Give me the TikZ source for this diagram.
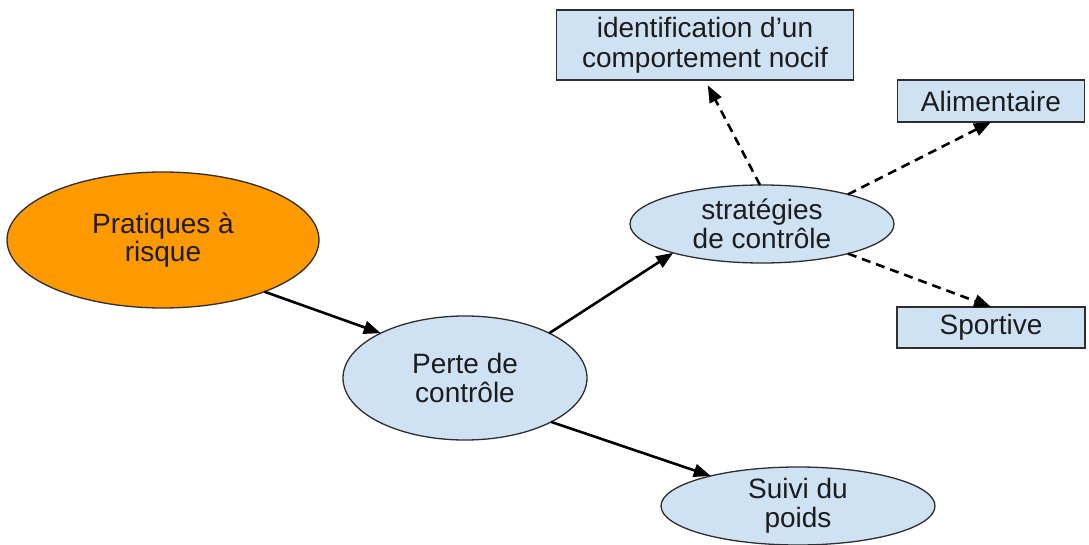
\documentclass[tikz,border=0pt]{standalone}
\usepackage{fontspec}
\setmainfont{Liberation Sans}
\usetikzlibrary{arrows.meta,shapes.geometric}
\definecolor{orangefill}{HTML}{FF9900}
\definecolor{bluefill}{HTML}{CFE2F3}
\definecolor{edgegray}{HTML}{2E2E2E}
\definecolor{inkdark}{HTML}{1C1C1C}
\tikzset{
  bubble/.style={ellipse, draw=edgegray, line width=1.3pt, outer sep=0pt, inner sep=0pt,
    align=center, text=inkdark, font=\fontsize{28}{28.5}\selectfont},
  riskbubble/.style={bubble, fill=orangefill},
  bluebubble/.style={bubble, fill=bluefill},
  labelbox/.style={rectangle, draw=edgegray, line width=1.3pt, fill=bluefill, outer sep=0pt,
    inner sep=0pt, align=center, text=inkdark, font=\fontsize{28}{30}\selectfont},
  link/.style={draw=black, line width=2.6pt, -{Triangle[length=17pt,width=13pt]}},
  optlink/.style={link, dash pattern=on 9pt off 6pt}
}
\begin{document}
\begin{tikzpicture}[x=1pt,y=-1pt]
  \useasboundingbox (0,0) rectangle (1089,545);
  \fill[white] (0,0) rectangle (1089,545);

  % main chain
  \node[riskbubble, minimum width=312pt, minimum height=136pt] (risk) at (163,240) {Pratiques à\\risque};
  \node[bluebubble, minimum width=244pt, minimum height=124pt] (loss) at (465,378) {Perte de\\contrôle};
  \node[bluebubble, minimum width=264pt, minimum height=78pt] (strat) at (762,224) {stratégies\\de contrôle};
  \node[bluebubble, minimum width=274pt, minimum height=78pt] (weight) at (798,506) {Suivi du\\poids};

  % kinds of strategies
  \node[labelbox, minimum width=297pt, minimum height=70pt] (harm) at (705,45) {identification d’un\\comportement nocif};
  \node[labelbox, minimum width=187pt, minimum height=42pt] (food) at (991,101) {Alimentaire};
  \node[labelbox, minimum width=188pt, minimum height=41pt] (sport) at (991,327.5) {Sportive};

  % solid links
  \draw[link] (risk.-27) -- (loss.152);
  \draw[link] (loss.28) -- (strat.198);
  \draw[link] (loss.-27) -- (weight.161);

  % dashed links
  \draw[optlink, shorten >=6pt] (strat.93) -- (harm.south);
  \draw[optlink] (strat.19) -- (food.south);
  \draw[optlink] (strat.-19) -- (sport.north);
\end{tikzpicture}
\end{document}
